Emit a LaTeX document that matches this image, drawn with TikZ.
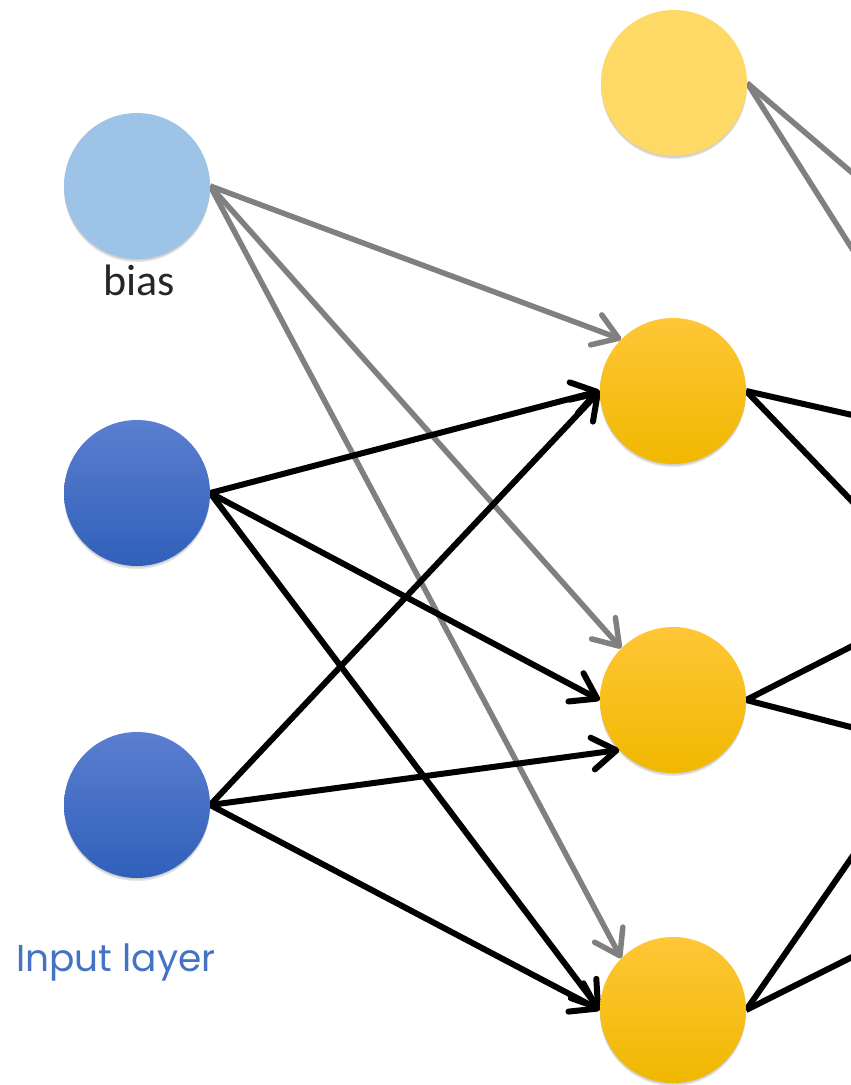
\documentclass[tikz,border=0pt]{standalone}
\usepackage{fontspec}
\setmainfont{Carlito}
\newfontfamily\layerfont{Poppins}
\usetikzlibrary{arrows.meta,backgrounds}

\definecolor{biasblue}{HTML}{9DC3E6}
\definecolor{intop}{HTML}{5A7ED0}
\definecolor{inbot}{HTML}{3060BA}
\definecolor{hidtop}{HTML}{FFC637}
\definecolor{hidmid}{HTML}{FFC000}
\definecolor{hidbot}{HTML}{F0B800}
\definecolor{hidbias}{HTML}{FFD966}
\definecolor{wgray}{HTML}{808080}
\definecolor{labelblue}{HTML}{4472C4}
\definecolor{labelink}{HTML}{262626}

\tikzset{
  neuron/.style={circle, minimum size=146pt, inner sep=0pt, draw=none,
    preaction={fill=black, opacity=0.10, transform canvas={yshift=-3pt}},
    preaction={fill=black, opacity=0.10, transform canvas={yshift=-1.5pt}}},
  biasunit/.style={neuron, fill=biasblue},
  inunit/.style={neuron, top color=intop, bottom color=inbot},
  hidunit/.style={neuron, top color=hidtop, middle color=hidmid, bottom color=hidbot},
  hidbiasunit/.style={neuron, fill=hidbias},
  wire/.style={line width=6pt, black},
  biaswire/.style={line width=5.5pt, wgray},
  head/.style={-{Straight Barb[length=24pt,width=32pt,round]}},
}

\begin{document}
\begin{tikzpicture}[x=1pt, y=-1pt]
  \useasboundingbox (0,0) rectangle (851,1085);
  \clip (0,0) rectangle (851,1085);

  % input layer
  \node[biasunit] (b0) at (137,186) {};
  \node[inunit]   (x1) at (137,493) {};
  \node[inunit]   (x2) at (137,805) {};

  % hidden layer
  \node[hidbiasunit] (b1) at (674,83) {};
  \node[hidunit] (h1) at (673,391) {};
  \node[hidunit] (h2) at (673,700) {};
  \node[hidunit] (h3) at (673,1010) {};

  % free ends towards the next layer
  \coordinate (e1) at (870,188);
  \coordinate (e2) at (870,277);
  \coordinate (e3) at (870,419);
  \coordinate (e4) at (870,520);
  \coordinate (e5) at (870,637);
  \coordinate (e6) at (870,732);
  \coordinate (e7) at (870,831);
  \coordinate (e8) at (870,948);

  \begin{pgfonlayer}{background}
    % bias weights
    \draw[biaswire, head] (b0.east) -- (h1.135);
    \draw[biaswire, head] (b0.east) -- (h2.135);
    \draw[biaswire, head] (b0.east) -- (h3.135);

    % input weights
    \draw[wire, head] (x1.east) -- (h1.west);
    \draw[wire, head] (x1.east) -- (h2.west);
    \draw[wire, head] (x1.east) -- (h3.west);
    \draw[wire, head] (x2.east) -- (h1.west);
    \draw[wire, head] (x2.east) -- (h2.223);
    \draw[wire, head] (x2.east) -- (h3.west);

    % outgoing weights
    \draw[biaswire] (b1.east) -- (e1);
    \draw[biaswire] (b1.east) -- (e2);
    \draw[wire] (h1.east) -- (e3);
    \draw[wire] (h1.east) -- (e4);
    \draw[wire] (h2.east) -- (e5);
    \draw[wire] (h2.east) -- (e6);
    \draw[wire] (h3.east) -- (e7);
    \draw[wire] (h3.east) -- (e8);
  \end{pgfonlayer}

  % labels
  \node[anchor=base, text=labelink, font=\fontsize{44}{44}\selectfont, inner sep=0pt] (lb) at (139,295) {bias};
  \node[anchor=base west, text=labelblue, font=\layerfont\fontsize{37.5}{40}\selectfont, inner sep=0pt] (li) at (16,971) {Input layer};
\end{tikzpicture}
\end{document}
